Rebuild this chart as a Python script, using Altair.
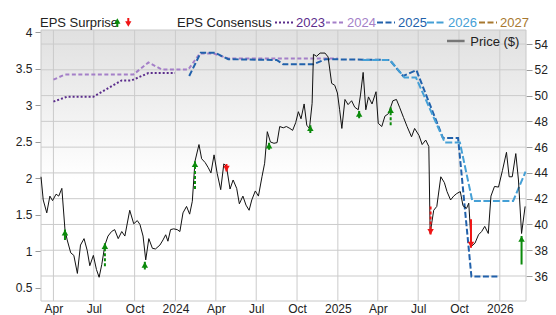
import altair as alt
import pandas as pd

# ---------------- data ----------------
price_2023 = [
    ("2023-03-04", 43.7), ("2023-03-09", 41.9), ("2023-03-17", 40.9), ("2023-03-24", 42.2),
    ("2023-03-30", 41.85), ("2023-04-07", 42.35), ("2023-04-13", 42.2), ("2023-04-20", 42.8),
    ("2023-04-27", 39.6), ("2023-05-02", 38.8), ("2023-05-10", 37.8), ("2023-05-17", 37.6),
    ("2023-05-25", 36.2), ("2023-06-01", 38.4), ("2023-06-09", 38.9), ("2023-06-16", 38.0),
    ("2023-06-22", 36.8), ("2023-06-30", 37.6), ("2023-07-07", 36.5), ("2023-07-13", 35.9),
    ("2023-07-19", 36.9), ("2023-07-26", 38.4), ("2023-08-02", 39.1), ("2023-08-10", 39.45),
    ("2023-08-17", 39.6), ("2023-08-25", 38.9), ("2023-09-02", 39.45), ("2023-09-09", 39.1),
    ("2023-09-20", 41.1), ("2023-09-29", 40.05), ("2023-10-07", 40.3), ("2023-10-13", 40.0),
    ("2023-10-20", 39.1), ("2023-10-26", 37.25), ("2023-11-02", 38.9), ("2023-11-10", 38.15),
    ("2023-11-17", 38.1), ("2023-11-27", 38.4), ("2023-12-04", 38.8), ("2023-12-10", 39.2),
    ("2023-12-15", 38.7), ("2023-12-21", 39.6), ("2023-12-28", 39.66),
]
price_2024 = [
    ("2024-01-05", 39.6), ("2024-01-11", 39.45), ("2024-01-18", 40.9), ("2024-01-26", 41.4),
    ("2024-02-02", 40.8), ("2024-02-08", 41.8), ("2024-02-14", 44.9), ("2024-02-23", 46.2),
    ("2024-02-29", 45.1), ("2024-03-08", 44.8), ("2024-03-15", 44.4), ("2024-03-21", 44.0),
    ("2024-03-28", 45.4), ("2024-04-04", 43.97), ("2024-04-12", 42.7), ("2024-04-19", 44.7),
    ("2024-04-25", 44.5), ("2024-05-03", 42.75), ("2024-05-10", 43.45), ("2024-05-18", 42.8),
    ("2024-05-24", 41.6), ("2024-06-01", 42.2), ("2024-06-08", 41.5), ("2024-06-15", 41.1),
    ("2024-06-21", 41.9), ("2024-06-29", 42.6), ("2024-07-06", 42.2), ("2024-07-14", 43.7),
    ("2024-07-20", 44.75), ("2024-07-26", 47.2), ("2024-08-02", 46.4), ("2024-08-10", 46.3),
    ("2024-08-17", 46.35), ("2024-08-23", 47.6), ("2024-08-31", 47.5), ("2024-09-07", 47.6),
    ("2024-09-15", 47.45), ("2024-09-21", 47.3), ("2024-09-28", 47.9), ("2024-10-04", 48.75),
    ("2024-10-10", 48.2), ("2024-10-17", 49.35), ("2024-10-23", 47.7), ("2024-10-29", 47.45),
    ("2024-11-04", 49.4), ("2024-11-07", 53.2), ("2024-11-14", 53.05), ("2024-11-22", 53.3),
    ("2024-12-03", 53.3), ("2024-12-10", 53.0), ("2024-12-18", 50.95), ("2024-12-25", 50.8),
    ("2024-12-31", 50.2),
]
price_2025 = [
    ("2025-01-05", 48.9), ("2025-01-10", 47.45), ("2025-01-17", 49.7), ("2025-01-24", 49.3),
    ("2025-02-01", 49.6), ("2025-02-08", 49.1), ("2025-02-16", 48.9), ("2025-02-21", 50.05),
    ("2025-02-27", 51.8), ("2025-03-05", 48.9), ("2025-03-11", 49.9), ("2025-03-19", 49.35),
    ("2025-03-28", 50.3), ("2025-04-02", 47.85), ("2025-04-10", 47.6), ("2025-04-17", 48.4),
    ("2025-04-25", 48.6), ("2025-05-05", 49.6), ("2025-05-13", 49.7), ("2025-05-20", 49.1),
    ("2025-05-29", 48.3), ("2025-06-06", 47.6), ("2025-06-16", 46.8), ("2025-06-23", 47.45),
    ("2025-07-03", 46.9), ("2025-07-10", 46.2), ("2025-07-18", 46.55), ("2025-07-25", 46.05),
    ("2025-07-28", 39.3), ("2025-08-05", 41.1), ("2025-08-12", 41.4), ("2025-08-21", 43.7),
    ("2025-08-29", 43.25), ("2025-09-04", 42.55), ("2025-09-12", 41.9), ("2025-09-19", 42.2),
    ("2025-09-26", 42.4), ("2025-10-04", 42.55), ("2025-10-10", 41.45), ("2025-10-18", 41.25),
    ("2025-10-23", 41.65), ("2025-10-29", 38.3), ("2025-11-06", 38.55), ("2025-11-14", 39.2),
    ("2025-11-21", 39.45), ("2025-11-28", 39.85), ("2025-12-06", 39.3), ("2025-12-12", 42.2),
    ("2025-12-20", 42.95), ("2025-12-29", 42.9),
]
price_2026 = [
    ("2026-01-07", 44.2), ("2026-01-16", 45.6), ("2026-01-22", 43.7), ("2026-01-29", 43.7),
    ("2026-02-06", 45.5), ("2026-02-12", 43.45), ("2026-02-19", 39.3), ("2026-02-27", 41.4),
]

# EPS consensus estimates per fiscal year (left axis)
eps_years = ["2023", "2024", "2025", "2026", "2027"]
eps_2023 = [("2023-04-01", 3.05), ("2023-05-01", 3.115), ("2023-06-30", 3.115),
            ("2023-09-02", 3.34), ("2023-09-24", 3.34), ("2023-11-01", 3.44),
            ("2023-12-31", 3.44)]
eps_2024 = [("2023-04-01", 3.35), ("2023-04-27", 3.42), ("2023-09-28", 3.42),
            ("2023-11-01", 3.585), ("2023-12-01", 3.49), ("2024-01-30", 3.49),
            ("2024-02-25", 3.71), ("2024-03-26", 3.71), ("2024-04-29", 3.64),
            ("2025-01-01", 3.64)]
eps_2025 = [("2024-02-01", 3.40), ("2024-02-27", 3.72), ("2024-03-30", 3.72),
            ("2024-04-29", 3.63), ("2024-08-16", 3.62), ("2024-08-31", 3.56),
            ("2024-11-07", 3.56), ("2024-12-04", 3.63), ("2025-04-28", 3.62),
            ("2025-05-28", 3.40), ("2025-06-27", 3.48), ("2025-08-26", 2.55),
            ("2025-09-29", 2.55), ("2025-10-29", 0.655), ("2025-12-28", 0.655)]
eps_2026 = [("2025-02-26", 3.62), ("2025-04-28", 3.62), ("2025-05-31", 3.38),
            ("2025-06-26", 3.38), ("2025-08-30", 2.49), ("2025-10-03", 2.49),
            ("2025-10-31", 1.69), ("2026-01-31", 1.69), ("2026-02-28", 2.09)]
eps_2027 = []

# EPS surprise arrows (drawn at the price level on report dates)
surprise_dates = ["2023-04-27", "2023-07-26", "2023-10-24", "2024-02-14", "2024-04-25",
                  "2024-07-30", "2024-10-31", "2025-02-18", "2025-04-30", "2025-07-29",
                  "2025-10-28", "2026-02-19"]
surprise_from = [38.8, 36.75, 36.5, 42.75, 44.7, 45.8, 47.1, 48.25, 47.7, 41.4, 40.4, 36.9]
surprise_to = [39.6, 38.55, 37.1, 44.9, 44.1, 46.35, 47.7, 48.8, 49.1, 39.2, 38.2, 39.1]
surprise_kind = ["beat", "beat", "beat", "beat", "miss", "beat", "beat", "beat", "beat",
                 "miss", "miss", "beat"]
surprise_stem = ["solid", "dashed", "solid", "dashed", "solid", "solid", "solid", "solid",
                 "dashed", "dashed", "solid", "solid"]

quarter_ticks = ["2023-04-01", "2023-07-01", "2023-10-01", "2024-01-01", "2024-04-01",
                 "2024-07-01", "2024-10-01", "2025-01-01", "2025-04-01", "2025-07-01",
                 "2025-10-01", "2026-01-01"]
eps_ticks = [0.5, 1, 1.5, 2, 2.5, 3, 3.5, 4]
price_ticks = [36, 38, 40, 42, 44, 46, 48, 50, 52, 54]

# ---------------- styling ----------------
FONT = "Liberation Sans"
GRID = "#cbcbcb"
eps_colors = ["#5b2d8c", "#a47fc8", "#2161ab", "#45a0d6", "#a8782f"]
eps_dashes = [[2, 2], [4, 2.5], [6, 2.5], [7, 2.5], [6, 2.5]]
GREEN = "#0b8a0b"
RED = "#f01515"

price_df = pd.DataFrame(price_2023 + price_2024 + price_2025 + price_2026,
                        columns=["date", "price"])
eps_rows = []
for yr, pts in zip(eps_years, [eps_2023, eps_2024, eps_2025, eps_2026, eps_2027]):
    for d, v in pts:
        eps_rows.append({"date": d, "eps": v, "year": yr})
eps_df = pd.DataFrame(eps_rows)
sur_df = pd.DataFrame({"date": surprise_dates, "start": surprise_from, "end": surprise_to,
                       "kind": surprise_kind, "stem": surprise_stem})
qdf = pd.DataFrame({"date": quarter_ticks})
pgrid_df = pd.DataFrame({"p": price_ticks})

W, H = 485, 271

x_scale = alt.Scale(type="utc",
                    domain=[alt.DateTime(year=2023, month=3, date=4, utc=True),
                            alt.DateTime(year=2026, month=3, date=1, utc=True)])
x_axis = alt.Axis(title=None, grid=False, ticks=False, tickSize=0, labelPadding=2,
                  tickCount={"interval": "month", "step": 3},
                  labelExpr="utcmonth(datum.value) == 0 ? utcFormat(datum.value, '%Y') : utcFormat(datum.value, '%b')")
X = alt.X("date:T", scale=x_scale, axis=x_axis)

eps_scale = alt.Scale(domain=[0.32, 4.03], nice=False, zero=False)
eps_axis = alt.Axis(orient="left", values=eps_ticks, grid=False, title=None,
                    tickSize=6, labelPadding=3, format="~g")
price_scale = alt.Scale(domain=[34.06, 55.09], nice=False, zero=False)
price_axis = alt.Axis(orient="right", values=price_ticks, grid=False, title=None,
                      tickSize=6, labelPadding=2, format="~g")

dummy = pd.DataFrame({"k": [0]})

# background with vertical gradient, then grid lines
bg = alt.Chart(dummy).mark_rect(
    fill=alt.LinearGradient(gradient="linear",
                            stops=[alt.GradientStop(color="#e0e0e0", offset=0),
                                   alt.GradientStop(color="#ffffff", offset=0.55)],
                            x1=0, x2=0, y1=0, y2=1),
    stroke="#c8c8c8", strokeWidth=1,
).encode(x=alt.value(0), x2=alt.value(W), y=alt.value(0), y2=alt.value(H))

vgrid = alt.Chart(qdf).mark_rule(color=GRID, strokeWidth=1).encode(x=X)
hgrid = alt.Chart(pgrid_df).mark_rule(color=GRID, strokeWidth=1).encode(
    y=alt.Y("p:Q", scale=price_scale, axis=None))

eps_lines = alt.Chart(eps_df).mark_line(strokeWidth=2).encode(
    x=X,
    y=alt.Y("eps:Q", scale=eps_scale, axis=eps_axis),
    color=alt.Color("year:N", scale=alt.Scale(domain=eps_years, range=eps_colors), legend=None),
    strokeDash=alt.StrokeDash("year:N", scale=alt.Scale(domain=eps_years, range=eps_dashes), legend=None),
    detail="year:N",
)

price_line = alt.Chart(price_df).mark_line(color="#111111", strokeWidth=1).encode(
    x=X, y=alt.Y("price:Q", scale=price_scale, axis=price_axis))

STEM_DASH = {"solid": [1, 0], "dashed": [3, 2]}
KIND_COLOR = {"beat": GREEN, "miss": RED}
arrow_layers = []
for kind in ["beat", "miss"]:
    for stem in ["solid", "dashed"]:
        arrow_layers.append(
            alt.Chart(sur_df).transform_filter(
                f"datum.kind == '{kind}' && datum.stem == '{stem}'"
            ).mark_rule(strokeWidth=2, color=KIND_COLOR[kind], strokeDash=STEM_DASH[stem]).encode(
                x=X,
                y=alt.Y("start:Q", scale=price_scale, axis=price_axis),
                y2="end:Q",
            )
        )
arrow_layers.append(
    alt.Chart(sur_df).transform_filter("datum.kind == 'beat'").mark_point(
        shape="triangle-up", filled=True, size=42, opacity=1, color=GREEN, yOffset=3).encode(
        x=X, y=alt.Y("end:Q", scale=price_scale, axis=price_axis))
)
arrow_layers.append(
    alt.Chart(sur_df).transform_filter("datum.kind == 'miss'").mark_point(
        shape="triangle-down", filled=True, size=42, opacity=1, color=RED, yOffset=-3).encode(
        x=X, y=alt.Y("end:Q", scale=price_scale, axis=price_axis))
)

price_group = alt.layer(price_line, *arrow_layers)


# ---------------- legend (drawn as annotations) ----------------
def label(text, x, y, color="#222222", size=13):
    return alt.Chart(dummy).mark_text(text=text, align="left", baseline="alphabetic",
                                      font=FONT, fontSize=size, color=color).encode(
        x=alt.value(x), y=alt.value(y))


def sample(x1, x2, y, color, dash, width=2):
    return alt.Chart(dummy).mark_rule(color=color, strokeDash=dash, strokeWidth=width).encode(
        x=alt.value(x1), x2=alt.value(x2), y=alt.value(y))


def arrow(x, y_top, y_bot, color, up):
    if up:
        stem = alt.Chart(dummy).mark_rule(color=color, strokeWidth=2).encode(
            x=alt.value(x), y=alt.value(y_top + 3), y2=alt.value(y_bot))
        head = alt.Chart(dummy).mark_point(shape="triangle-up", filled=True, size=40,
                                           opacity=1, color=color).encode(
            x=alt.value(x), y=alt.value(y_top + 3))
    else:
        stem = alt.Chart(dummy).mark_rule(color=color, strokeWidth=2).encode(
            x=alt.value(x), y=alt.value(y_top), y2=alt.value(y_bot - 3))
        head = alt.Chart(dummy).mark_point(shape="triangle-down", filled=True, size=40,
                                           opacity=1, color=color).encode(
            x=alt.value(x), y=alt.value(y_bot - 3))
    return [stem, head]


LY = -3.3
legend_layers = [label("EPS Surprise", -1, LY)]
legend_layers += arrow(76.3, -12, -3, GREEN, True)
legend_layers += arrow(87.3, -12, -3, RED, False)
legend_layers.append(label("EPS Consensus", 136, LY))
legend_x = [(234, 252, 255), (285, 302, 306), (336, 354, 357), (386, 403, 407), (438, 456, 459)]
for (a, b, t), yr, c, d in zip(legend_x, eps_years, eps_colors, eps_dashes):
    legend_layers.append(sample(a, b, -7.5, c, d))
    legend_layers.append(label(yr, t, LY, color=c))
legend_layers.append(sample(406, 423.6, 11, "#777777", [1, 0], 2.5))
legend_layers.append(label("Price ($)", 429.3, 15.5))

chart = alt.layer(bg, vgrid, hgrid, eps_lines, price_group, *legend_layers).resolve_scale(
    y="independent"
).properties(
    width=W, height=H,
    autosize=alt.AutoSizeParams(type="none"),
    padding={"left": 41, "top": 30, "right": 30, "bottom": 14},
).configure_axis(
    labelFont=FONT, labelFontSize=12, labelColor="#222222",
    tickColor="#999999", domain=False,
).configure_view(stroke=None)

chart.save("out.html", embed_options={"renderer": "svg", "actions": False})
